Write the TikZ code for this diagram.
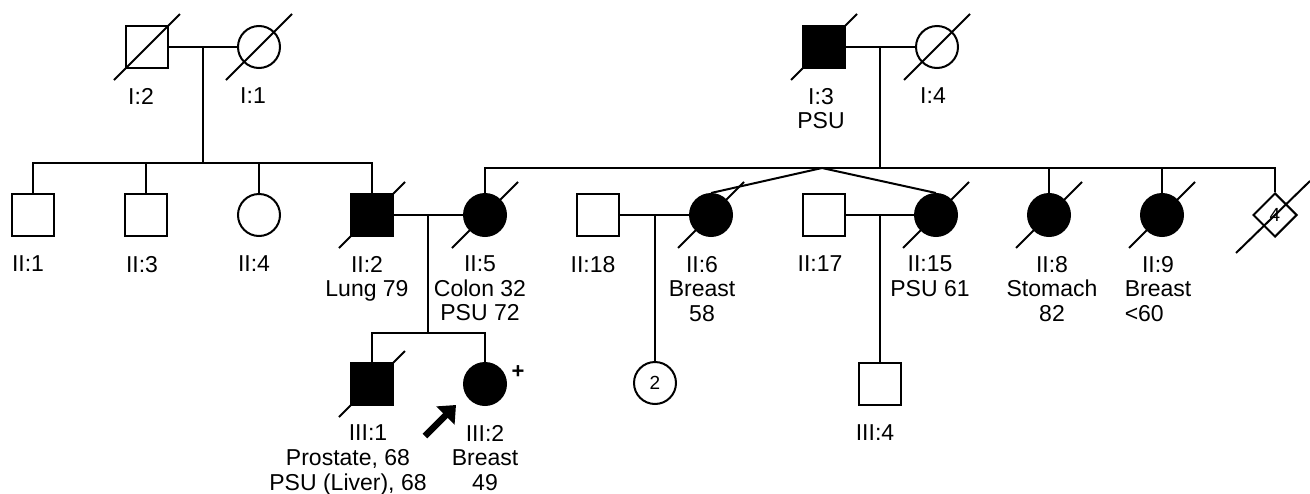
\documentclass[tikz,border=0pt]{standalone}
\usepackage{fontspec}
\setmainfont{Liberation Sans}
\usetikzlibrary{shapes.geometric,arrows.meta}

\begin{document}
\begin{tikzpicture}[x=1pt, y=-1pt, line width=2pt,
  male/.style={draw, rectangle, minimum size=42pt, inner sep=0pt},
  female/.style={draw, circle, minimum size=42pt, inner sep=0pt},
  unknown/.style={draw, diamond, minimum size=44pt, inner sep=0pt, font=\fontsize{19}{20}\selectfont},
  affected/.style={fill=black},
  lab/.style={anchor=north, inner sep=0pt, align=center, font=\fontsize{23}{24.5}\selectfont},
  proband/.style={line width=6.5pt, -{Triangle[length=15pt,width=25pt]}}]
  \useasboundingbox (0,0) rectangle (1310,493);

  % ---- Generation I ----
  \node[male] (i2) at (147,47) {};
  \node[female] (i1) at (259,47) {};
  \node[male, affected] (i3) at (824,47) {};
  \node[female] (i4) at (937,47) {};
  % Marriages and lines of descent
  \coordinate (m1) at (203,47);
  \coordinate (s1) at (203,163);
  \draw (i2) -- (i1);
  \draw (m1) -- (s1);
  \coordinate (m2) at (880,47);
  \coordinate (s2) at (880,168);
  \draw (i3) -- (i4);
  \draw (m2) -- (s2);

  % ---- Generation II ----
  \node[male] (ii1) at (33,215) {};
  \node[male] (ii3) at (146,215) {};
  \node[female] (ii4) at (259,215) {};
  \node[male, affected] (ii2) at (372,215) {};
  \node[female, affected] (ii5) at (485,215) {};
  \node[male] (ii18) at (598,215) {};
  \node[female, affected] (ii6) at (711,215) {};
  \node[male] (ii17) at (824,215) {};
  \node[female, affected] (ii15) at (936,215) {};
  \node[female, affected] (ii8) at (1049,215) {};
  \node[female, affected] (ii9) at (1162,215) {};
  \node[unknown] (ii4s) at (1275,215) {4};
  % Sibship lines
  \foreach \n in {ii1,ii3,ii4,ii2} {
    \draw (\n) |- (s1);
  }
  \foreach \n in {ii5,ii8,ii9,ii4s} {
    \draw (\n) |- (s2);
  }
  % Twins II:6 and II:15
  \coordinate (tw) at (822,168);
  \draw (ii6.north) -- (tw) -- (ii15.north);
  % Marriages
  \draw (ii2) -- (ii5);
  \coordinate (m3) at (428,215);
  \coordinate (s3) at (428,333);
  \draw (m3) -- (s3);
  \draw (ii18) -- (ii6);
  \coordinate (m4) at (655,215);
  \draw (ii17) -- (ii15);
  \coordinate (m5) at (880,215);

  % ---- Generation III ----
  \node[male, affected] (iii1) at (372,384) {};
  \node[female, affected] (iii2) at (485,384) {};
  \node[female, font=\fontsize{19}{20}\selectfont] (iii3) at (655,383) {2};
  \node[male] (iii4) at (880,384) {};
  \foreach \n in {iii1,iii2} {
    \draw (\n) |- (s3);
  }
  \draw (m4) -- (iii3);
  \draw (m5) -- (iii4);

  % Deceased
  \foreach \n in {i2,i1,i3,i4,ii2,ii5,ii6,ii15,ii8,ii9,iii1} {
    \draw (\n.center) ++(-33,33) -- ++(66,-66);
  }
  \draw (ii4s.center) ++(-39,38) -- ++(74,-72);

  % Proband and carrier
  \coordinate (pt) at (425,436);
  \coordinate (ph) at (456,405);
  \draw[proband] (pt) -- (ph);
  \node[inner sep=0pt, font=\bfseries\fontsize{22}{22}\selectfont] (carrier) at (518,372) {+};

  % Labels
  \node[lab] (i2l) at (141,87) {I:2};
  \node[lab] (i1l) at (253,87) {I:1};
  \node[lab] (i3l) at (821,87) {I:3\\PSU};
  \node[lab] (i4l) at (933,87) {I:4};
  \node[lab] (ii1l) at (28,255) {II:1};
  \node[lab] (ii3l) at (142,255) {II:3};
  \node[lab] (ii4l) at (254,255) {II:4};
  \node[lab] (ii2l) at (367,255) {II:2\\Lung 79};
  \node[lab] (ii5l) at (480,255) {II:5\\Colon 32\\PSU 72};
  \node[lab] (ii18l) at (593,255) {II:18};
  \node[lab] (ii6l) at (702,255) {II:6\\Breast\\58};
  \node[lab] (ii17l) at (820,255) {II:17};
  \node[lab] (ii15l) at (930,255) {II:15\\PSU 61};
  \node[lab] (ii8l) at (1052,255) {II:8\\Stomach\\82};
  \node[lab] (ii9l) at (1158,255) {II:9\\Breast\\\rlap{<60}\phantom{Breast}};
  \node[lab] (iii1l) at (368,424) {III:1};
  \node[lab] (iii1d) at (348,448.5) {Prostate, 68\\PSU (Liver), 68};
  \node[lab] (iii2l) at (485,424) {III:2\\Breast\\49};
  \node[lab] (iii4l) at (875,424) {III:4};
\end{tikzpicture}
\end{document}
